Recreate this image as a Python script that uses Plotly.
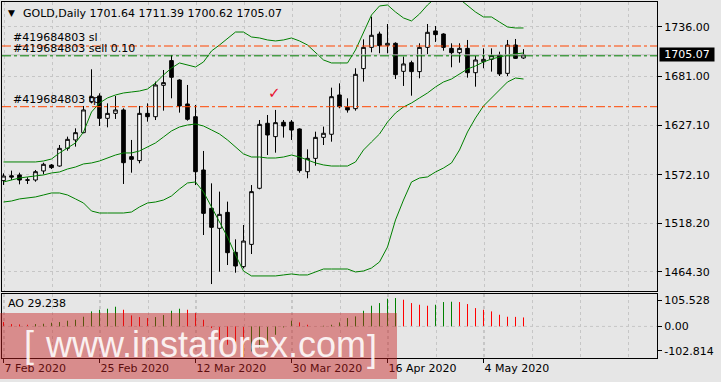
import plotly.graph_objects as go

# ---------------- data ----------------
dates = ["7 Feb 2020", "25 Feb 2020", "12 Mar 2020", "30 Mar 2020", "16 Apr 2020", "4 May 2020"]
date_idx = [0, 12, 24, 36, 48, 60]

opens = [1565.6, 1571.0, 1571.9, 1566.5, 1566.3, 1576.3, 1582.9, 1581.8, 1601.4, 1610.7,
         1618.8, 1653.2, 1659.5, 1634.7, 1640.2, 1644.0, 1592.2, 1587.8, 1640.2, 1636.5,
         1671.3, 1698.7, 1677.2, 1650.6, 1636.5, 1577.4, 1534.9, 1512.7, 1530.4, 1486.1,
         1470.2, 1494.9, 1557.1, 1629.2, 1614.4, 1630.3, 1630.6, 1622.9, 1575.5, 1590.3,
         1613.6, 1617.0, 1660.6, 1646.9, 1645.4, 1689.8, 1713.4, 1728.2, 1715.7, 1717.9,
         1686.8, 1696.4, 1686.5, 1713.4, 1731.6, 1728.2, 1712.3, 1707.5, 1712.3, 1685.3,
         1697.5, 1700.1, 1704.9, 1684.6, 1716.0, 1701.64]
highs = [1573.7, 1576.7, 1574.4, 1569.3, 1577.4, 1585.5, 1584.0, 1605.1, 1614.4, 1623.6,
         1648.4, 1689.1, 1662.4, 1651.3, 1659.5, 1645.8, 1610.7, 1648.4, 1651.3, 1675.4,
         1688.3, 1705.0, 1678.0, 1671.7, 1649.5, 1598.5, 1562.6, 1553.4, 1542.3, 1500.5,
         1516.4, 1560.7, 1632.8, 1638.4, 1644.0, 1632.8, 1632.8, 1623.6, 1600.3, 1619.9,
         1625.5, 1668.7, 1673.5, 1656.9, 1690.2, 1722.3, 1747.5, 1730.8, 1739.3, 1719.0,
         1703.1, 1698.6, 1717.9, 1739.3, 1737.1, 1729.0, 1717.9, 1717.9, 1721.6, 1703.8,
         1712.3, 1712.3, 1708.6, 1721.6, 1722.7, 1711.39]
lows = [1560.8, 1566.3, 1561.5, 1561.9, 1564.4, 1572.6, 1578.5, 1581.1, 1598.8, 1603.3,
        1618.1, 1651.3, 1626.2, 1624.7, 1634.0, 1561.9, 1574.4, 1584.8, 1631.0, 1632.8,
        1643.2, 1656.9, 1641.0, 1632.1, 1560.7, 1505.3, 1450.9, 1464.6, 1472.0, 1463.5,
        1468.3, 1484.2, 1556.0, 1594.0, 1596.6, 1613.3, 1610.7, 1574.4, 1568.2, 1582.2,
        1605.1, 1608.8, 1645.8, 1641.0, 1643.2, 1675.4, 1707.9, 1706.8, 1706.8, 1678.3,
        1670.6, 1659.8, 1679.1, 1706.0, 1719.4, 1709.7, 1691.3, 1696.4, 1679.8, 1669.8,
        1690.2, 1686.5, 1681.6, 1681.6, 1700.5, 1700.62]
closes = [1570.7, 1569.5, 1566.3, 1566.1, 1575.5, 1583.7, 1580.0, 1601.4, 1611.4, 1618.8,
          1644.0, 1658.7, 1634.7, 1640.2, 1644.0, 1585.5, 1589.2, 1640.2, 1636.5, 1671.7,
          1674.3, 1680.2, 1648.4, 1633.6, 1575.5, 1529.3, 1513.8, 1528.2, 1485.7, 1470.9,
          1498.6, 1553.4, 1628.0, 1616.2, 1629.9, 1626.2, 1621.7, 1576.7, 1590.3, 1613.6,
          1618.1, 1658.7, 1647.6, 1644.0, 1683.5, 1713.4, 1726.8, 1715.3, 1717.9, 1683.1,
          1695.0, 1686.5, 1713.4, 1730.1, 1727.5, 1713.4, 1707.5, 1712.3, 1685.3, 1699.4,
          1700.1, 1704.2, 1683.9, 1716.0, 1701.2, 1705.07]

bb_upper = [1586.3, 1586.3, 1586.3, 1586.3, 1586.3, 1587.4, 1589.6, 1596.3, 1601.8, 1607.4,
            1619.6, 1641.7, 1651.7, 1657.3, 1660.6, 1662.8, 1663.9, 1665.0, 1667.2, 1673.9,
            1682.8, 1690.5, 1696.1, 1693.9, 1691.6, 1697.2, 1709.4, 1716.0, 1722.7, 1730.4,
            1730.4, 1724.9, 1723.8, 1721.6, 1720.5, 1721.6, 1723.8, 1720.5, 1716.0, 1707.2,
            1699.4, 1696.1, 1696.1, 1696.1, 1710.5, 1730.4, 1749.3, 1759.3, 1760.4, 1752.6,
            1746.0, 1742.7, 1750.4, 1760.4, 1768.2, 1772.6, 1771.5, 1767.0, 1759.3, 1752.6,
            1747.1, 1747.1, 1741.5, 1736.0, 1734.9, 1734.9]
bb_middle = [1564.1, 1566.3, 1568.5, 1569.7, 1570.8, 1571.9, 1574.1, 1575.2, 1578.5, 1580.7,
             1584.1, 1585.2, 1587.4, 1590.7, 1594.0, 1596.3, 1596.3, 1598.5, 1602.9, 1607.4,
             1614.0, 1620.7, 1625.1, 1627.3, 1628.4, 1626.2, 1621.8, 1617.3, 1610.7, 1602.9,
             1595.2, 1591.8, 1591.8, 1590.7, 1590.7, 1591.8, 1594.0, 1591.8, 1588.5, 1585.2,
             1583.0, 1581.8, 1581.8, 1581.8, 1586.3, 1599.6, 1608.5, 1617.3, 1630.6, 1640.6,
             1647.3, 1651.7, 1657.3, 1662.8, 1669.5, 1675.0, 1678.3, 1683.9, 1689.4, 1692.8,
             1697.2, 1700.5, 1702.7, 1704.9, 1706.1, 1707.2]
bb_lower = [1541.9, 1543.0, 1545.3, 1546.4, 1547.5, 1549.7, 1551.9, 1551.9, 1549.7, 1545.3,
            1540.8, 1531.9, 1529.7, 1529.7, 1529.7, 1529.7, 1530.8, 1536.4, 1540.8, 1541.9,
            1544.1, 1548.6, 1556.3, 1563.0, 1564.1, 1553.0, 1536.4, 1519.7, 1503.1, 1483.1,
            1465.4, 1459.9, 1459.9, 1459.9, 1459.9, 1461.0, 1462.1, 1461.0, 1461.0, 1464.3,
            1467.6, 1467.6, 1467.6, 1467.6, 1464.3, 1465.4, 1468.7, 1475.4, 1492.0, 1522.0,
            1544.1, 1564.1, 1568.5, 1569.7, 1575.2, 1579.6, 1585.2, 1599.6, 1619.6, 1635.1,
            1648.4, 1657.3, 1666.1, 1675.0, 1679.4, 1678.3]

ao_values = [14.1, 7.6, 6.5, 5.4, 7.6, 8.7, 11.9, 14.1, 18.5, 21.7,
             31.5, 48.9, 54.3, 57.6, 64.1, 54.3, 35.8, 30.4, 27.2, 30.4,
             36.9, 51.0, 57.6, 54.3, 43.4, 21.7, -5.4, -43.4, -59.7, -72.7,
             -100.0, -81.4, -70.6, -54.3, -27.2, -3.3, 18.5, 13.0, 5.4, 1.1,
             2.2, 5.4, 13.0, 27.2, 32.6, 51.0, 67.3, 76.0, 90.1, 92.3,
             86.9, 76.0, 70.6, 67.3, 70.6, 79.3, 80.4, 79.3, 72.8, 59.7,
             54.3, 48.9, 38.0, 31.5, 31.0, 29.238]
ao_before_first = 16.0

price_ticks = [1736.00, 1681.00, 1627.10, 1572.10, 1518.20, 1464.30]
ao_labels = ["105.528", "0.00", "-102.814"]
ao_max, ao_min = 105.528, -102.814

order_id = "#419684803"
order_sl = 1714.9
order_open = 1704.0
order_tp = 1647.6
bid = 1705.07
title_text = "GOLD,Daily 1701.64 1711.39 1700.62 1705.07"
ao_text = "AO 29.238"

# ---------------- figure ----------------
W, H = 721, 382
def fx(px):
    return px / W
def fy(py):
    return 1 - py / H

BG = "#e6e6e6"
GRID = "#c6c6c6"
FONT = "DejaVu Sans"
n = len(opens)
idx = list(range(n))

fig = go.Figure()
fig.add_trace(go.Candlestick(
    x=idx, open=opens, high=highs, low=lows, close=closes,
    increasing=dict(line=dict(color="black", width=1), fillcolor="white"),
    decreasing=dict(line=dict(color="black", width=1), fillcolor="black"),
    whiskerwidth=0, xaxis="x", yaxis="y", hoverinfo="skip", showlegend=False))
for band in (bb_upper, bb_middle, bb_lower):
    fig.add_trace(go.Scatter(x=idx, y=band, mode="lines", line=dict(color="#008000", width=1),
                             xaxis="x", yaxis="y", hoverinfo="skip", showlegend=False))

gx, gy, rx, ry = [], [], [], []
prev = ao_before_first
for i, v in enumerate(ao_values):
    if v >= prev:
        gx += [i, i, None]; gy += [0, v, None]
    else:
        rx += [i, i, None]; ry += [0, v, None]
    prev = v
fig.add_trace(go.Scatter(x=gx, y=gy, mode="lines", line=dict(color="#008000", width=1),
                         xaxis="x2", yaxis="y2", hoverinfo="skip", showlegend=False))
fig.add_trace(go.Scatter(x=rx, y=ry, mode="lines", line=dict(color="#ff0000", width=1),
                         xaxis="x2", yaxis="y2", hoverinfo="skip", showlegend=False))

xdom = [fx(2), fx(657)]
xr = [-0.1875, 81.6875]
axis_common = dict(showline=True, mirror=True, linecolor="black", linewidth=1, zeroline=False)

fig.update_layout(
    width=W, height=H, margin=dict(l=0, r=0, t=0, b=0),
    paper_bgcolor=BG, plot_bgcolor=BG, boxgap=0.35,
    font=dict(family=FONT, size=11, color="black"),
    xaxis=dict(domain=xdom, range=xr, anchor="y", tick0=0.1, dtick=6, showticklabels=False,
               ticks="", showgrid=True, gridcolor=GRID, griddash="3px,3px", gridwidth=1,
               rangeslider=dict(visible=False), **axis_common),
    yaxis=dict(domain=[fy(291), fy(2)], range=[1443.2, 1763.7], anchor="x", side="right",
               tickmode="array", tickvals=price_ticks, ticktext=[f"{v:.2f}" for v in price_ticks],
               ticks="outside", ticklen=4, tickcolor="black", showgrid=True, gridcolor=GRID,
               griddash="3px,3px", tickfont=dict(family=FONT, size=11, color="black"), **axis_common),
    xaxis2=dict(domain=xdom, range=xr, anchor="y2", tickmode="array", tickvals=date_idx,
                ticktext=dates, ticks="outside", ticklen=4, tickcolor="black",
                ticklabelposition="outside right", showgrid=True, gridcolor=GRID, griddash="3px,3px",
                minor=dict(tickmode="linear", tick0=0.1, dtick=6, showgrid=True, gridcolor=GRID,
                           griddash="3px,3px", ticks=""),
                tickfont=dict(family=FONT, size=11, color="black"), **axis_common),
    yaxis2=dict(domain=[fy(358), fy(294)], range=[ao_min, ao_max], anchor="x2", side="right",
                tickmode="array", tickvals=[84, 0, -80], ticktext=ao_labels, ticks="outside",
                ticklen=4, tickcolor="black", showgrid=False,
                tickfont=dict(family=FONT, size=11, color="black"), **axis_common),
)

shapes = []
def hline(yv, color, dash, yref="y"):
    shapes.append(dict(type="line", xref="paper", yref=yref, x0=xdom[0], x1=xdom[1], y0=yv, y1=yv,
                       line=dict(color=color, width=1, dash=dash), layer="above"))
hline(bid, "#bcbcbc", "solid")
hline(order_sl, "#ff4500", "9px,3px,3px,3px")
hline(order_open, "#008000", "9px,3px,3px,3px")
hline(order_tp, "#ff4500", "9px,3px,3px,3px")
hline(0, GRID, "3px,3px", yref="y2")
# watermark box
shapes.append(dict(type="rect", xref="paper", yref="paper", x0=0, x1=fx(397), y0=fy(379), y1=fy(313),
                   fillcolor="rgba(200,30,30,0.45)", line=dict(width=0), layer="above"))
fig.update_layout(shapes=shapes)

ann = []
def text(px, py, s, size=11, color="black", anchor="left", family=FONT, **kw):
    ann.append(dict(xref="paper", yref="paper", x=fx(px), y=fy(py), text=s, showarrow=False,
                    xanchor=anchor, yanchor="middle", font=dict(family=family, size=size, color=color), **kw))
text(11, 13, "▼", size=9, anchor="center")
text(21, 13, title_text)
text(11, 38, f"{order_id} sl")
text(11, 48, f"{order_id} sell 0.10")
text(11, 100, f"{order_id} tp")
text(274, 93, "✓", size=15, color="#e8102e", anchor="center")
text(6, 303, ao_text)
# current price label
ann.append(dict(xref="paper", yref="y", x=fx(659), y=bid, text=f"{bid:.2f}", showarrow=False,
                xanchor="left", yanchor="middle", bgcolor="black", width=54, height=13, borderpad=0,
                font=dict(family=FONT, size=11, color="white")))
# watermark text
wm_font = "Liberation Sans"
wm_col = "rgba(255,255,255,0.88)"
text(29, 344, "[", size=36, color=wm_col, anchor="center", family=wm_font)
text(205, 344, "www.instaforex.com", size=36, color=wm_col, anchor="center", family=wm_font)
text(372, 348, "]", size=36, color=wm_col, anchor="center", family=wm_font)
fig.update_layout(annotations=ann)

fig.write_html("out.html")
